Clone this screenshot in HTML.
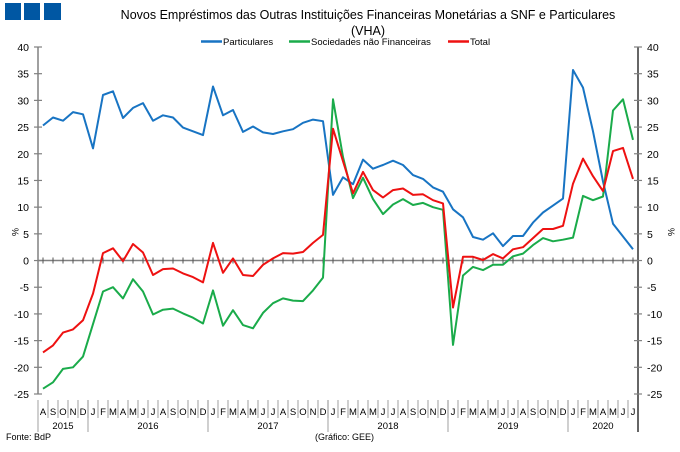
<!DOCTYPE html>
<html><head><meta charset="utf-8"><style>
body{margin:0;background:#fff;}
svg text{font-family:"Liberation Sans",Arial,sans-serif;}
</style></head><body>
<svg id="chart" width="680" height="447" viewBox="0 0 680 447" xmlns="http://www.w3.org/2000/svg">
<rect x="5" y="3" width="16" height="17" fill="#0057a3"/>
<rect x="24" y="3" width="16" height="17" fill="#0057a3"/>
<rect x="44" y="3" width="17" height="17" fill="#0057a3"/>
<text x="368" y="19" font-size="12.5" text-anchor="middle" fill="#000">Novos Empréstimos das Outras Instituições Financeiras Monetárias a SNF e Particulares</text>
<text x="368" y="35" font-size="12.5" text-anchor="middle" fill="#000">(VHA)</text>
<g font-size="9.5">
<line x1="201" y1="41.5" x2="222" y2="41.5" stroke="#1874c3" stroke-width="2.5"/><text x="223" y="45">Particulares</text>
<line x1="289" y1="41.5" x2="310" y2="41.5" stroke="#1aab4a" stroke-width="2.5"/><text x="311" y="45">Sociedades não Financeiras</text>
<line x1="448" y1="41.5" x2="469" y2="41.5" stroke="#ee1111" stroke-width="2.5"/><text x="470" y="45">Total</text>
</g>
<g id="axes"></g>
<g id="series"></g>
<text x="12" y="228" font-size="9" transform="rotate(90 12 228)">%</text>
<text x="668" y="228" font-size="9" transform="rotate(90 668 228)">%</text>
<text x="6" y="440" font-size="9">Fonte: BdP</text>
<text x="315" y="440" font-size="9">(Gráfico: GEE)</text>
</svg>
<script>
const monthLabels = ["A","S","O","N","D","J","F","M","A","M","J","J","A","S","O","N","D","J","F","M","A","M","J","J","A","S","O","N","D","J","F","M","A","M","J","J","A","S","O","N","D","J","F","M","A","M","J","J","A","S","O","N","D","J","F","M","A","M","J","J"];
const years = ["2015","2016","2017","2018","2019","2020"];
const yearStartIdx = [0,5,17,29,41,53];
const yTicks = [40,35,30,25,20,15,10,5,0,-5,-10,-15,-20,-25];
const particulares = [25.3,26.8,26.2,27.8,27.4,21,31,31.7,26.7,28.6,29.5,26.2,27.2,26.8,24.9,24.2,23.5,32.6,27.2,28.2,24.1,25.1,24,23.7,24.2,24.6,25.8,26.4,26.1,12.3,15.6,14.3,18.9,17.2,17.9,18.7,17.9,16.0,15.3,13.7,12.9,9.6,8.1,4.4,3.9,5.1,2.7,4.6,4.6,7.1,9.0,10.3,11.6,35.7,32.4,24.2,14.8,6.9,4.5,2.1];
const snf = [-24,-22.8,-20.3,-20,-18,-11.9,-5.8,-5.0,-7.1,-3.5,-5.8,-10.1,-9.2,-9.0,-9.9,-10.7,-11.8,-5.6,-12.2,-9.3,-12.1,-12.7,-9.8,-8.0,-7.1,-7.5,-7.6,-5.6,-3.2,30.2,19.4,11.7,15.5,11.5,8.7,10.5,11.5,10.4,10.8,10.0,9.5,-15.8,-2.8,-1.2,-1.8,-0.8,-0.8,0.8,1.3,2.9,4.2,3.6,3.9,4.3,12.1,11.3,12.0,28.1,30.2,22.6];
const total = [-17.2,-15.9,-13.5,-12.9,-11.2,-6.2,1.4,2.3,-0.1,3.1,1.5,-2.7,-1.6,-1.5,-2.4,-3.1,-4.1,3.3,-2.3,0.4,-2.7,-2.9,-0.8,0.4,1.4,1.3,1.6,3.3,4.8,24.7,18.6,12.6,16.6,13.2,11.8,13.2,13.5,12.3,12.4,11.3,10.7,-8.8,0.7,0.7,0.1,1.2,0.4,2.1,2.5,4.2,5.9,5.9,6.5,14.4,19.1,15.8,13.0,20.5,21.1,15.3];

const NS="http://www.w3.org/2000/svg";
const X0=38, X1=638, Ytop=47, Ybot=394;
const n=monthLabels.length, slot=(X1-X0)/n;
function xScale(i){return X0+slot*(i+0.5);}
function yScale(v){return Ybot-(v-(-25))*(Ybot-Ytop)/65;}
function mk(tag,attrs,parent){const e=document.createElementNS(NS,tag);for(const k in attrs)e.setAttribute(k,attrs[k]);parent.appendChild(e);return e;}
const axes=document.getElementById('axes'), series=document.getElementById('series');

let a=mk('line',{x1:X0,y1:Ytop,x2:X0,y2:Ybot,stroke:'#808080','stroke-width':1.5},axes);


a=mk('line',{x1:X1,y1:Ytop,x2:X1,y2:Ybot+38,stroke:'#000','stroke-width':1.2},axes);


a=mk('line',{x1:X0,y1:yScale(0),x2:X1,y2:yScale(0),stroke:'#808080','stroke-width':1.5},axes);


yTicks.forEach(v=>{
  const y=yScale(v);
  mk('line',{x1:X0-4,y1:y,x2:X0+4,y2:y,stroke:'#808080','stroke-width':1.2},axes);
  mk('line',{x1:X1-4,y1:y,x2:X1+4,y2:y,stroke:'#808080','stroke-width':1.2},axes);
  let t=mk('text',{x:X0-9,y:y+4,'font-size':10.5,'text-anchor':'end'},axes);t.textContent=v;
  
  
  t=mk('text',{x:X1+9,y:y+4,'font-size':10.5},axes);t.textContent=v;
  
  
});
for(let i=0;i<n;i++){
  const xb=X0+slot*i;
  mk('line',{x1:xScale(i),y1:yScale(0)-3,x2:xScale(i),y2:yScale(0)+3,stroke:'#555','stroke-width':1},axes);
  if(i>0) mk('line',{x1:xb,y1:Ybot+6,x2:xb,y2:Ybot+24,stroke:'#888','stroke-width':0.8},axes);
  const t=mk('text',{x:xScale(i),y:Ybot+21,'font-size':9.5,'text-anchor':'middle'},axes);t.textContent=monthLabels[i];
  
  
}
years.forEach((yr,k)=>{
  const s=yearStartIdx[k], e=k+1<years.length?yearStartIdx[k+1]:n;
  const xb=X0+slot*s;
  mk('line',{x1:xb,y1:Ybot+6,x2:xb,y2:Ybot+38,stroke:'#888','stroke-width':0.8},axes);
  const t=mk('text',{x:X0+slot*(s+e)/2,y:Ybot+35,'font-size':9.5,'text-anchor':'middle'},axes);t.textContent=yr;
  
  
});
function line(data,color,name){
  const p=mk('polyline',{points:data.map((v,i)=>xScale(i).toFixed(1)+','+yScale(v).toFixed(1)).join(' '),fill:'none',stroke:color,'stroke-width':2,'stroke-linejoin':'round'},series);
  
  
}
line(particulares,'#1874c3','series-particulares');
line(snf,'#1aab4a','series-sociedades-nao-financeiras');
line(total,'#ee1111','series-total');
</script>
</body></html>
